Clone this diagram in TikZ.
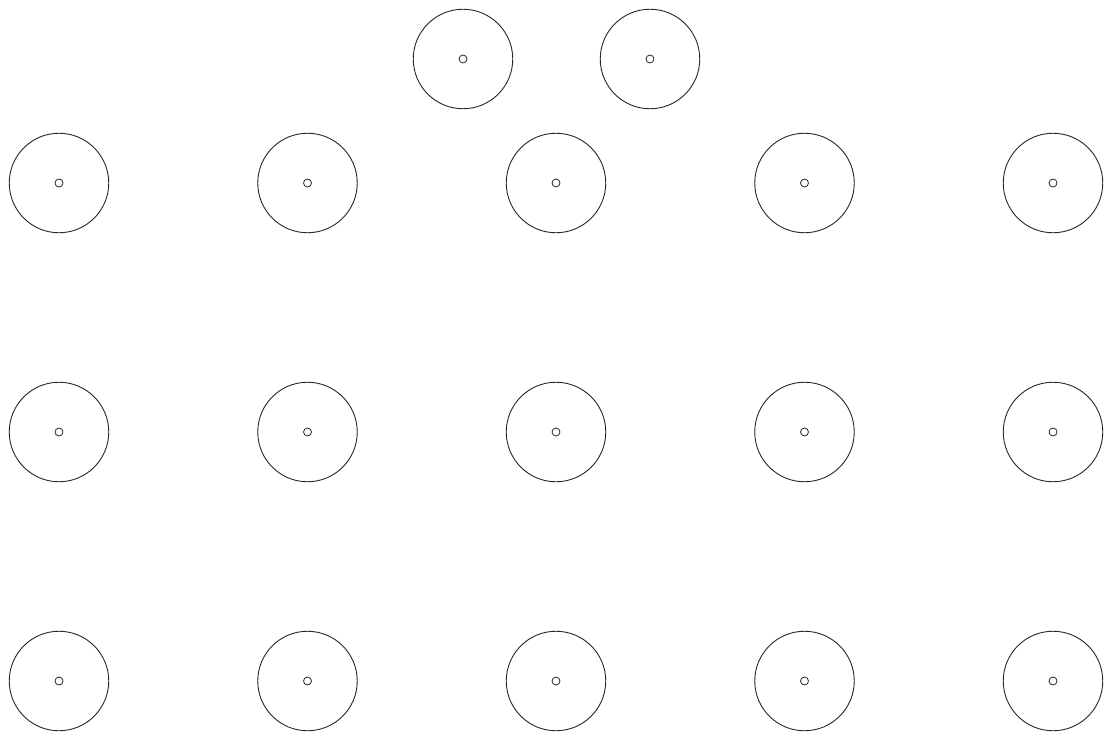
\documentclass[tikz,border=0pt]{standalone}
\begin{document}
\begin{tikzpicture}[x=1pt,y=-1pt,
  ring/.style={circle,draw=black!85,line width=0.9pt,minimum size=99.5pt,inner sep=0pt},
  hole/.style={circle,draw=black!85,line width=0.8pt,minimum size=8pt,inner sep=0pt}]
\useasboundingbox (0,0) rectangle (1108,733);
\node[ring] (t1) at (463,59) {};
\node[hole] (t1c) at (463,59) {};
\node[ring] (t2) at (650,59) {};
\node[hole] (t2c) at (650,59) {};
\foreach \r/\y in {1/183,2/432,3/681}{
  \foreach \c/\x in {1/59,2/307.5,3/556,4/804.5,5/1053}{
    \node[ring] (r\r c\c) at (\x,\y) {};
    \node[hole] (h\r c\c) at (\x,\y) {};
  }
}
\end{tikzpicture}
\end{document}
